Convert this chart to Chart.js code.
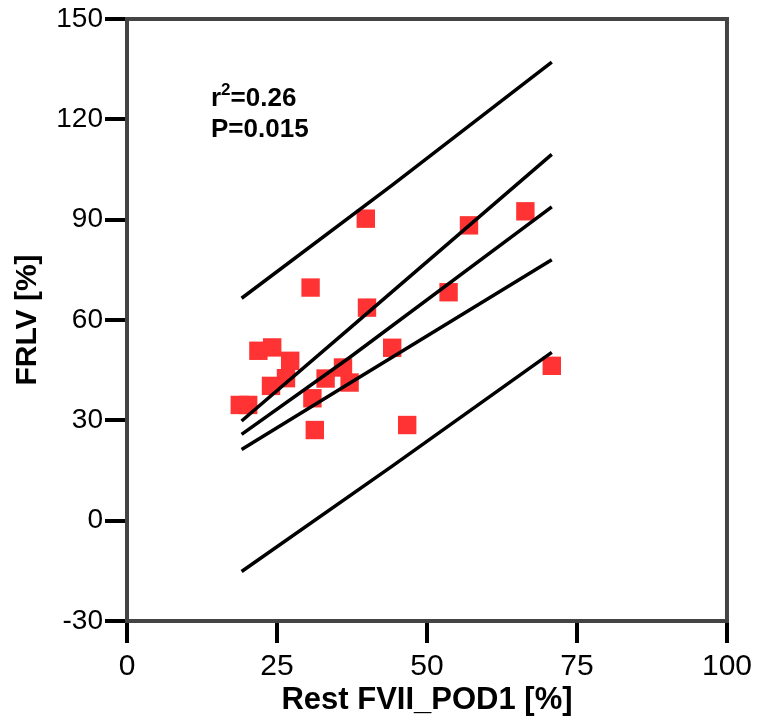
<!DOCTYPE html>
<html>
<head>
<meta charset="utf-8">
<script src="https://cdn.jsdelivr.net/npm/chart.js@4"></script>
<style>
  html, body { margin: 0; padding: 0; background: #fff; }
  #wrap { width: 758px; height: 719px; }
</style>
</head>
<body>
<div id="wrap"><canvas id="chartFrlv"></canvas></div>
<script>
// data
const restFvii = [39.8, 57.0, 30.6, 40.0, 53.6, 44.2, 21.9, 24.2, 27.2, 26.5, 24.0, 36.0, 33.1, 37.1, 30.9, 31.3, 46.7, 18.8, 20.2, 70.8, 66.4];
const frlv     = [90.3, 88.3, 69.7, 63.7, 68.3, 51.7, 50.8, 51.8, 47.8, 42.6, 40.3, 45.8, 42.5, 41.3, 36.6, 27.1, 28.6, 34.6, 34.6, 46.3, 92.5];

const bandX    = [19.1, 37.1, 70.8];
const predX    = [19.1, 44.2, 70.8];
const predUpper = [66.5, 100.3, 137.1];
const ciUpper   = [29.8, 57.5, 109.5];
const regLine   = [25.8, 48.8, 93.8];
const ciLower   = [21.3, 41.1, 78.0];
const predLower = [-15.2, 16.3, 50.3];

const xTicks = [0, 25, 50, 75, 100];
const yTicks = [-30, 0, 30, 60, 90, 120, 150];

const sans = '"Liberation Sans", Arial, sans-serif';
const narrow = '"Liberation Sans Narrow", "Liberation Sans", Arial, sans-serif';

const toPts = (xs, ys) => xs.map((x, i) => ({ x: x, y: ys[i] }));

function garis(xs, ys) {
    return {
        data: toPts(xs, ys),
        showLine: true,
        borderColor: '#000',
        borderWidth: 3.5,
        pointRadius: 0,
        fill: false,
        order: 0
    };
}

// bingkai atas & kanan + teks r2 / P
const plotExtras = {
    id: 'plotExtras',
    afterDraw(chart) {
        const { ctx, chartArea: a, scales } = chart;
        ctx.save();
        ctx.strokeStyle = '#444';
        ctx.lineWidth = 4;
        ctx.beginPath();
        ctx.moveTo(a.left, a.top);
        ctx.lineTo(a.right, a.top);
        ctx.lineTo(a.right, a.bottom);
        ctx.stroke();

        const tx = scales.x.getPixelForValue(14.0);
        const ty = scales.y.getPixelForValue(124.0);
        ctx.fillStyle = '#000';
        ctx.textBaseline = 'alphabetic';
        ctx.font = 'bold 26px ' + sans;
        ctx.fillText('r', tx, ty);
        const rw = ctx.measureText('r').width;
        ctx.font = 'bold 17px ' + sans;
        ctx.fillText('2', tx + rw, ty - 11);
        const sw = ctx.measureText('2').width;
        ctx.font = 'bold 26px ' + sans;
        ctx.fillText('=0.26', tx + rw + sw, ty);
        ctx.fillText('P=0.015', tx, ty + 31);
        ctx.restore();
    }
};

new Chart(document.getElementById('chartFrlv'), {
    type: 'scatter',
    data: {
        datasets: [
            garis(predX, predUpper),
            garis(bandX, ciUpper),
            garis(bandX, regLine),
            garis(bandX, ciLower),
            garis(predX, predLower),
            {
                data: toPts(restFvii, frlv),
                pointStyle: 'rect',
                pointRadius: 13,
                pointHoverRadius: 13,
                backgroundColor: '#ff3333',
                borderColor: '#ff3333',
                borderWidth: 0,
                order: 1
            }
        ]
    },
    options: {
        responsive: true,
        maintainAspectRatio: false,
        animation: false,
        layout: { padding: { top: 19, right: 31, left: 0, bottom: 0 } },
        plugins: { legend: { display: false }, tooltip: { enabled: false } },
        scales: {
            x: {
                type: 'linear',
                min: 0,
                max: 100,
                afterFit: s => { s.height = 98; },
                afterBuildTicks: s => { s.ticks = xTicks.map(v => ({ value: v })); },
                grid: { drawOnChartArea: false, drawTicks: true, tickLength: 22, color: '#000', lineWidth: 4 },
                border: { display: true, color: '#444', width: 4 },
                ticks: { color: '#000', font: { family: sans, size: 30 }, padding: 6, maxRotation: 0, autoSkip: false },
                title: { display: true, text: 'Rest FVII_POD1 [%]', color: '#000', font: { family: sans, size: 31, weight: 'bold' }, padding: { top: 0, bottom: 0 } }
            },
            y: {
                type: 'linear',
                min: -30,
                max: 150,
                afterFit: s => { s.width = 127; },
                afterBuildTicks: s => { s.ticks = yTicks.map(v => ({ value: v })); },
                grid: { drawOnChartArea: false, drawTicks: true, tickLength: 22, color: '#000', lineWidth: 4 },
                border: { display: true, color: '#444', width: 4 },
                ticks: { color: '#000', font: { family: sans, size: 28 }, padding: 2 },
                title: { display: true, text: 'FRLV [%]', color: '#000', font: { family: narrow, size: 30, weight: 'bold' }, padding: { top: 10, bottom: 0 } }
            }
        }
    },
    plugins: [plotExtras]
});
</script>
</body>
</html>
